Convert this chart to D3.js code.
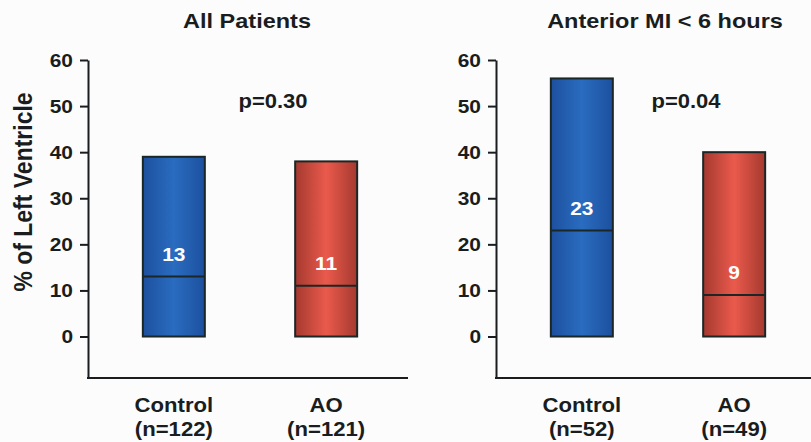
<!DOCTYPE html>
<html>
<head>
<meta charset="utf-8">
<script src="https://cdn.jsdelivr.net/npm/d3@7/dist/d3.min.js"></script>
<style>
  html, body { margin: 0; padding: 0; background: #fcfcfd; }
  svg { display: block; }
  text { font-family: "Liberation Sans", Arial, Helvetica, sans-serif; font-weight: bold; fill: #1a1d20; }
</style>
</head>
<body>
<svg id="chart" width="811" height="442"></svg>
<script>
// ---- data ----
const panelTitles = ["All Patients", "Anterior MI < 6 hours"];
const categories = ["Control", "AO"];
const groupSizes = [["(n=122)", "(n=121)"], ["(n=52)", "(n=49)"]];
const barTops = [[39, 38], [56, 40]];
const medians = [[13, 11], [23, 9]];
const pValues = ["p=0.30", "p=0.04"];
const yTicks = [0, 10, 20, 30, 40, 50, 60];
const yLabel = "% of Left Ventricle";

// ---- layout ----
const svg = d3.select("#chart");
const panelX = [88, 496];
const panelW = 324;
const y = d3.scaleLinear().domain([-9, 60]).range([378, 60]);

const defs = svg.append("defs");
function grad(id, edge, mid) {
  const g = defs.append("linearGradient").attr("id", id)
    .attr("x1", "0%").attr("x2", "100%").attr("y1", "0%").attr("y2", "0%");
  g.append("stop").attr("offset", "0%").attr("stop-color", edge);
  g.append("stop").attr("offset", "50%").attr("stop-color", mid);
  g.append("stop").attr("offset", "100%").attr("stop-color", edge);
}
grad("gBlue", "#1d509e", "#2a6cc0");
grad("gRed", "#a5392f", "#ea5a4c");
const fills = ["url(#gBlue)", "url(#gRed)"];

const sx = 1.1; // slight horizontal stretch of the original lettering

panelTitles.forEach((title, p) => {
  const x0 = panelX[p];
  const g = svg.append("g");
  const x = d3.scaleBand().domain(categories)
    .range([x0, x0 + panelW]).paddingInner(0.593).paddingOuter(0.36);

  // axis
  const axis = d3.axisLeft(y).tickValues(yTicks).tickSize(8).tickPadding(7).tickSizeOuter(0);
  const ag = g.append("g").attr("transform", `translate(${x0},0)`).call(axis);
  ag.select(".domain").attr("stroke", "#1a1d20").attr("stroke-width", 2);
  ag.selectAll(".tick line").attr("stroke", "#1a1d20").attr("stroke-width", 2);
  ag.selectAll(".tick text")
    .attr("font-size", 19).attr("font-family", null).attr("fill", "#1a1d20")
    .attr("transform", `translate(-15,0) scale(${sx},1) translate(15,0)`);

  // bottom line
  g.append("line")
    .attr("x1", x0 - 1).attr("x2", x0 + 320)
    .attr("y1", y(-9)).attr("y2", y(-9))
    .attr("stroke", "#1a1d20").attr("stroke-width", 2);

  // bars
  categories.forEach((c, i) => {
    g.append("rect")
      .attr("x", x(c)).attr("width", x.bandwidth())
      .attr("y", y(barTops[p][i])).attr("height", y(0) - y(barTops[p][i]))
      .attr("fill", fills[i])
      .attr("stroke", "#1b2626").attr("stroke-width", 2);
    g.append("line")
      .attr("x1", x(c)).attr("x2", x(c) + x.bandwidth())
      .attr("y1", y(medians[p][i])).attr("y2", y(medians[p][i]))
      .attr("stroke", "#1b2626").attr("stroke-width", 2);
    const cx = x(c) + x.bandwidth() / 2;
    g.append("text")
      .attr("transform", `translate(${cx},${y(medians[p][i]) - 16}) scale(${sx},1)`)
      .attr("text-anchor", "middle").attr("font-size", 19)
      .style("fill", "#ffffff")
      .text(medians[p][i]);
    g.append("text")
      .attr("transform", `translate(${cx},412) scale(1.08,1)`)
      .attr("text-anchor", "middle").attr("font-size", 20.5)
      .text(c);
    g.append("text")
      .attr("transform", `translate(${cx},436) scale(1.08,1)`)
      .attr("text-anchor", "middle").attr("font-size", 20.5)
      .text(groupSizes[p][i]);
  });

  // title
  const tcx = p === 0 ? 247 : 665;
  g.append("text")
    .attr("transform", `translate(${tcx},28) scale(1.12,1)`)
    .attr("text-anchor", "middle").attr("font-size", 21)
    .text(title);

  // p value
  const pcx = p === 0 ? 273 : 686;
  g.append("text")
    .attr("transform", `translate(${pcx},108) scale(${sx},1)`)
    .attr("text-anchor", "middle").attr("font-size", 20)
    .text(pValues[p]);
});

// y label
svg.append("text")
  .attr("transform", `translate(32,192) scale(${sx},1) rotate(-90)`)
  .attr("text-anchor", "middle").attr("font-size", 23)
  .text(yLabel);
</script>
</body>
</html>
